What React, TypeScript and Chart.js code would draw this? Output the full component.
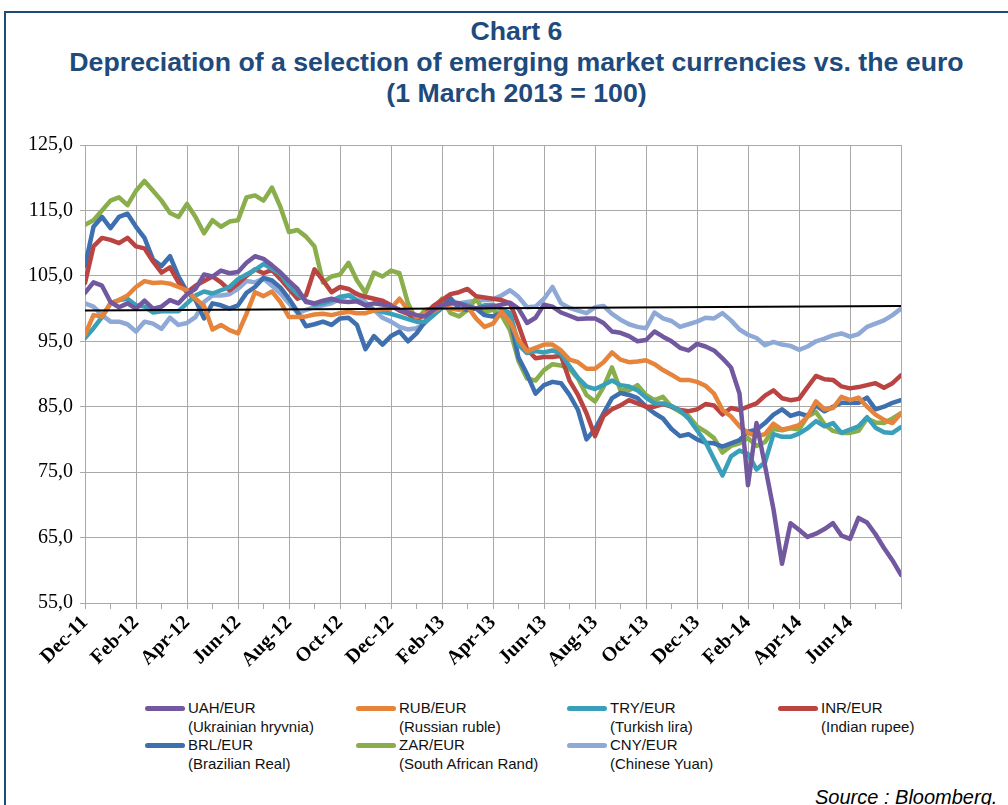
import React, { useEffect, useRef } from "react";
import { Chart, registerables } from "chart.js";

Chart.register(...registerables);

// ---- Data ----
const TICK_LABELS = [
  "Dec-11", "Feb-12", "Apr-12", "Jun-12", "Aug-12", "Oct-12", "Dec-12", "Feb-13",
  "Apr-13", "Jun-13", "Aug-13", "Oct-13", "Dec-13", "Feb-14", "Apr-14", "Jun-14",
];
const MONTHS_SPAN = 32; // Dec-11 .. Aug-14
const POINTS_PER_MONTH = 3;

const SERIES_CODES = ["UAH/EUR", "RUB/EUR", "TRY/EUR", "INR/EUR", "BRL/EUR", "ZAR/EUR", "CNY/EUR"];
const SERIES_NAMES = [
  "(Ukrainian hryvnia)", "(Russian ruble)", "(Turkish lira)", "(Indian rupee)",
  "(Brazilian Real)", "(South African Rand)", "(Chinese Yuan)",
];
const SERIES_COLORS = ["#71589F", "#E6843B", "#3A9FB8", "#B94441", "#3E6FAE", "#89AE4B", "#8EA9D6"];

const UAH = [102.4,104,103.5,101,100.2,100.8,100,101.2,100,100.3,
  101.3,100.8,102.2,103,105.2,104.9,105.8,105.4,105.6,107,
  108,107.6,106.6,105.5,104.2,103,101,100.8,101.2,101.5,
  101.1,101,101.1,100.5,100.8,100.6,100.4,99.8,99.4,99,
  98.8,99.8,100.5,100.8,100.8,100.3,100,100.2,100.3,100.6,
  100.9,100,97.8,98.6,100.6,100.3,99.4,98.9,98.4,98.5,
  98.5,97.8,96.5,96.3,95.8,95,95.2,96.5,95.7,95,
  94,93.6,94.6,94.2,93.6,92.4,91,87,73,82.5,
  76,69.3,61,67.2,66.2,65.1,65.6,66.3,67.2,65.3,
  64.8,68,67.3,65.5,63.4,61.5,59.3];

const RUB = [96,99,98.8,100.8,101.3,102,103.3,104.2,103.9,104,
  103.8,103.3,102.8,101.5,100.4,96.8,97.5,96.7,96.2,99.2,
  102.5,101.9,102.6,101,98.7,98.7,98.8,99.1,99.2,99,
  99.3,99.5,99.3,99.3,99.7,99.9,100,101.5,99.8,98.7,
  99.2,99.6,100.3,100,99.8,100.3,98.5,97.2,97.7,99.5,
  98,95.2,93.5,94,94.5,94.5,93.6,92.2,91.8,90.8,
  90.8,91.8,93.3,92.2,91.8,91.9,92.1,91.5,90.6,89.9,
  89.1,89.1,88.8,88.2,87,84.5,83.5,82,81,80.5,
  80.8,82.4,81.5,81.8,82.2,83.5,85.8,84.6,84.8,86.5,
  86,86.4,85,83.8,83,82.5,84];

const TRY = [95.5,97,98.7,100.8,101.3,101.5,100.5,100.3,99.4,99.6,
  99.6,99.6,100.8,102,102.6,102.3,102.8,103.3,104.5,105.2,
  105.9,106.8,106.1,105.3,103.5,102.2,101.2,100.6,100.8,101.2,
  101.8,102,101.3,100.5,99.8,99.5,99.2,98.8,98.4,98,
  98,99,100.1,100.8,100.8,100.5,100,100.5,100.6,99.9,
  99.3,94.5,93.2,93.5,93.3,93.6,93.1,91.2,89.4,88.1,
  87.7,88.3,89,88.3,88.1,87.5,86.4,85.5,85.5,85.1,
  84.4,83.2,81.4,79.6,77,74.5,77.4,78.3,77.8,75.4,
  76.5,80.8,80.4,80.4,80.9,81.7,82.8,82,82.5,81,
  81.5,82,83.4,81.8,81.1,81,81.9];

const INR = [103.9,109.5,110.8,110.5,110,110.8,109.5,109.2,107.2,105.5,
  106.3,104,102.5,103.5,104.2,104.9,104,102.8,103.8,105,
  106,105.4,105.9,104.5,103,101.5,102,106,104.3,102.5,
  103.3,103,102.2,101.8,101.5,101.2,100.5,99.7,99.2,98.3,
  99.1,100.4,101.3,102.2,102.5,103,101.9,101.7,101.5,101.3,
  100.8,97.5,93.8,92.4,92.6,92.6,92.8,89,86.8,84,
  80.5,83.6,84.6,85.2,86,85.5,85,85,85.4,85,
  84.5,84.3,84.6,85.4,85.2,83.8,84.8,84.5,85,85.5,
  86.7,87.5,86.3,86,86.2,88,89.7,89.2,89.1,88.1,
  87.8,88,88.3,88.6,87.9,88.6,89.8];

const BRL = [106.5,112.5,114,112.3,114,114.5,112.5,110.8,107.5,106.5,
  108,104.9,102.6,101.3,98.5,100.8,100.5,100,100.5,102.4,
  103.3,104.7,104.3,103.2,101.5,99.5,97.3,97.6,98,97.5,
  98.5,98.6,97.5,93.8,95.8,94.5,95.8,96.5,95,96.2,
  98,99.3,100.2,101.6,100,99.8,100,99,98.8,99.3,
  98.5,92.5,90,87,88.3,88.8,88.6,86.8,84.5,80,
  81.6,84,86.3,87.1,86.8,86.3,85,84,83.2,81.6,
  80.5,80.8,80,79.5,79.4,78.9,79.4,79.9,81.2,81.5,
  82.5,83.8,84.6,83.6,84,83.6,85.2,84.3,85,85.6,
  85.6,85.6,86.4,84.6,85,85.6,86];

const ZAR = [112.8,113.5,115,116.5,117,115.8,118,119.5,118,116.5,
  114.6,114,116,114,111.5,113.5,112.5,113.3,113.5,117,
  117.3,116.5,118.5,115.5,111.7,112,111,109.5,104,104.9,
  105.2,107,104.3,102.4,105.5,104.9,105.8,105.4,100.8,98.2,
  99.8,100,101.5,99.3,98.8,99.8,101.5,99.5,99.8,99,
  96.7,92,89.3,89,90.6,91.5,91.3,90.8,89.3,86.8,
  85.8,88,91,87.5,87.5,88.3,86.8,86,86.5,85,
  84.2,83.6,82,81.2,80.2,78,79,79.4,80.2,79,
  79.6,81.6,81.4,81.7,81.5,83.5,84.2,82.3,81.3,81,
  81,81.3,83.2,82.6,82.5,83.2,84];

const CNY = [100.8,100.3,99,98,98,97.6,96.5,98,97.7,96.9,
  98.6,97.5,97.8,98.7,101,102,102,102.2,103,104.2,
  104,104.6,103.5,102.3,100.8,99.3,99.8,100.2,100.5,100.8,
  101.5,102,102.3,101,99.8,98.6,98,97.2,96.8,97,
  97.8,99,100.9,101.3,100.8,101,101.2,101.3,101.4,102,
  102.8,101.8,100.2,100.3,101.5,103.3,100.8,100.1,99.7,99.3,
  100.2,100.4,99.2,98.3,97.6,97.2,97,99.4,98.5,98.1,
  97.2,97.6,98,98.6,98.5,99.3,98.2,96.8,96,95.5,
  94.4,94.9,94.5,94.3,93.7,94.2,95,95.4,95.9,96.2,
  95.7,96.1,97.2,97.7,98.2,99,100];

const BASE_LINE = [99.7, 100.4]; // reference line at start and end of period

const Y_MIN = 55;
const Y_MAX = 125;
const Y_STEP = 10;

const SERIES = [UAH, RUB, TRY, INR, BRL, ZAR, CNY];

const GRID = "#A9A9A9";
const TITLE_COLOR = "#1F4A7C";
const SERIF = '"Liberation Serif", "Times New Roman", serif';
const SANS = '"Liberation Sans", Arial, sans-serif';

export default function App() {
  const canvasRef = useRef<HTMLCanvasElement | null>(null);

  useEffect(() => {
    const canvas = canvasRef.current;
    if (!canvas) return;
    const toPts = (arr: number[]) => arr.map((v, i) => ({ x: i / POINTS_PER_MONTH, y: v }));
    const datasets: any[] = [
      {
        label: "base",
        data: [
          { x: 0, y: BASE_LINE[0] },
          { x: MONTHS_SPAN, y: BASE_LINE[1] },
        ],
        borderColor: "#000000",
        borderWidth: 2,
        pointRadius: 0,
      },
      ...SERIES.map((s, k) => ({
        label: SERIES_CODES[k],
        data: toPts(s),
        borderColor: SERIES_COLORS[k],
        borderWidth: 4.5,
        pointRadius: 0,
        borderJoinStyle: "round",
        borderCapStyle: "round",
        tension: 0,
      })),
    ];

    const chart = new Chart(canvas, {
      type: "line",
      data: { datasets },
      options: {
        animation: false,
        responsive: false,
        maintainAspectRatio: false,
        layout: { padding: { top: 145, left: 0, right: 107, bottom: 0 } },
        plugins: { legend: { display: false }, tooltip: { enabled: false }, title: { display: false } },
        scales: {
          x: {
            type: "linear",
            min: 0,
            max: MONTHS_SPAN,
            ticks: {
              stepSize: 1,
              autoSkip: false,
              maxRotation: 45,
              minRotation: 45,
              padding: 2,
              color: "#000",
              font: { family: SERIF, size: 20, weight: "bold" },
              callback: (v: any) => {
                const n = Number(v);
                return n % 2 === 0 && TICK_LABELS[n / 2] ? TICK_LABELS[n / 2] : "";
              },
            },
            grid: {
              color: (ctx: any) => (ctx.tick && ctx.tick.value % 2 === 0 ? GRID : "rgba(0,0,0,0)"),
              tickColor: GRID,
              tickLength: 6,
              lineWidth: 1,
            },
            border: { color: GRID, width: 1 },
            afterFit: (s: any) => {
              s.height = 85;
            },
          },
          y: {
            min: Y_MIN,
            max: Y_MAX,
            ticks: {
              stepSize: Y_STEP,
              padding: 7,
              color: "#000",
              font: { family: SERIF, size: 20 },
              callback: (v: any) => Number(v).toFixed(1).replace(".", ","),
            },
            grid: { color: GRID, tickColor: GRID, tickLength: 5, lineWidth: 1 },
            border: { color: GRID, width: 1 },
            afterFit: (s: any) => {
              s.width = 85;
            },
          },
        },
      } as any,
    });
    return () => chart.destroy();
  }, []);

  const legendCols = [145, 356, 567, 778];
  const legendRows = [699, 736];

  return (
    <div
      style={{
        position: "absolute",
        left: 0,
        top: 0,
        width: 1008,
        height: 805,
        overflow: "hidden",
        background: "#fff",
      }}
    >
      <div
        style={{
          position: "absolute",
          left: 4,
          top: 11,
          width: 1100,
          height: 900,
          borderTop: `2px solid ${TITLE_COLOR}`,
          borderLeft: `2px solid ${TITLE_COLOR}`,
        }}
      />
      <div
        style={{
          position: "absolute",
          left: 0,
          top: 16,
          width: 1033,
          textAlign: "center",
          fontFamily: SANS,
          fontWeight: "bold",
          fontSize: 26.7,
          lineHeight: "31px",
          color: TITLE_COLOR,
        }}
      >
        <div>Chart 6</div>
        <div>Depreciation of a selection of emerging market currencies vs. the euro</div>
        <div>(1 March 2013 = 100)</div>
      </div>
      <canvas
        ref={canvasRef}
        width={1008}
        height={688}
        style={{ position: "absolute", left: 0, top: 0, width: 1008, height: 688 }}
      />
      {SERIES_CODES.map((code, k) => {
        const col = k % 4;
        const row = Math.floor(k / 4);
        const left = legendCols[col];
        const top = legendRows[row];
        return (
          <div key={code}>
            <div
              style={{
                position: "absolute",
                left,
                top: top + 7,
                width: 40,
                height: 5,
                borderRadius: 3,
                background: SERIES_COLORS[k],
              }}
            />
            <div
              style={{
                position: "absolute",
                left: left + 43,
                top,
                fontFamily: SANS,
                fontSize: 15,
                lineHeight: "18.5px",
                color: "#111",
                whiteSpace: "nowrap",
              }}
            >
              <div>{code}</div>
              <div>{SERIES_NAMES[k]}</div>
            </div>
          </div>
        );
      })}
      <div
        style={{
          position: "absolute",
          left: 815,
          top: 785,
          fontFamily: SANS,
          fontStyle: "italic",
          fontSize: 20,
          lineHeight: "24px",
          color: "#000",
          whiteSpace: "nowrap",
        }}
      >
        Source : Bloomberg.
      </div>
    </div>
  );
}
